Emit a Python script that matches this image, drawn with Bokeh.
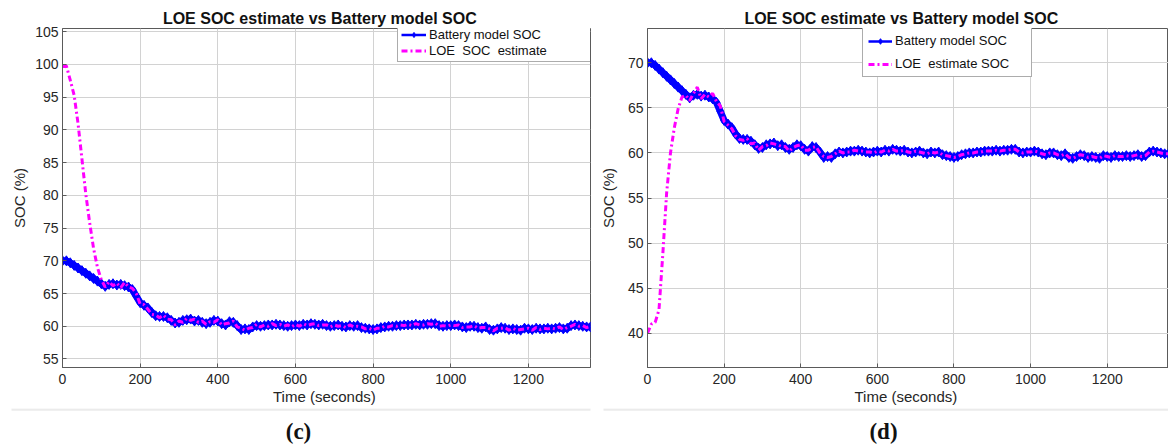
from bokeh.plotting import figure
from bokeh.models import Range1d, Legend, LegendItem, FixedTicker
from bokeh.layouts import row, column
from bokeh.embed import file_html
from bokeh.resources import INLINE
from bokeh.core.properties import value

# ---------------- data ----------------
time_s = list(range(0, 1361, 10))

battery_soc = [
    70.0, 70.0, 69.7, 69.3, 68.9, 68.5, 68.1, 67.7, 67.3, 66.9,
    66.5, 66.1, 66.4, 66.5, 66.3, 66.4, 66.2, 66.0, 65.6, 64.6,
    63.6, 63.2, 62.8, 62.1, 61.6, 61.5, 61.5, 61.3, 60.9, 60.5,
    60.6, 60.9, 61.0, 61.1, 60.8, 60.9, 60.6, 60.4, 60.6, 60.9,
    60.8, 60.4, 60.2, 60.7, 60.6, 60.1, 59.5, 59.6, 59.5, 59.9,
    60.1, 60.0, 60.1, 60.2, 60.2, 60.3, 60.2, 60.1, 60.0, 60.1,
    60.2, 60.1, 60.3, 60.2, 60.4, 60.3, 60.2, 60.3, 60.1, 60.0,
    60.1, 60.2, 60.0, 59.9, 60.1, 60.0, 60.1, 59.8, 59.7, 59.6,
    59.5, 59.6, 59.8, 59.9, 60.0, 60.0, 60.1, 60.1, 60.2, 60.2,
    60.2, 60.3, 60.2, 60.3, 60.3, 60.4, 60.4, 60.1, 60.0, 60.1,
    60.1, 60.2, 60.1, 59.9, 59.8, 60.0, 60.0, 59.8, 59.7, 59.9,
    59.5, 59.4, 59.6, 59.8, 59.7, 59.5, 59.6, 59.5, 59.4, 59.7,
    59.6, 59.5, 59.7, 59.6, 59.6, 59.7, 59.6, 59.7, 59.8, 59.6,
    59.7, 60.1, 60.2, 60.1, 60.0, 59.9, 59.9,
]

loe_estimate_c = [
    99.7, 99.8, 97.6, 95.3, 91.0, 85.6, 80.2, 75.8, 71.9, 69.0,
    67.1, 66.0, 66.8, 66.2, 66.6, 65.9, 66.7, 66.0, 65.8, 65.0,
    63.4, 63.3, 62.6, 61.8, 61.7, 61.3, 61.7, 61.1, 61.0, 60.2,
    60.8, 60.6, 61.2, 60.9, 61.1, 60.6, 60.8, 60.3, 60.7, 60.6,
    61.0, 60.2, 60.4, 60.5, 60.8, 59.9, 59.7, 59.4, 59.7, 59.8,
    60.3, 59.9, 60.2, 60.0, 60.4, 60.1, 60.3, 60.0, 60.2, 59.9,
    60.3, 60.0, 60.4, 60.1, 60.3, 60.4, 60.1, 60.2, 60.2, 59.9,
    60.2, 60.0, 60.1, 59.8, 60.2, 59.9, 60.0, 59.9, 59.6, 59.7,
    59.4, 59.7, 59.7, 60.0, 59.9, 60.1, 60.0, 60.2, 60.1, 60.3,
    60.1, 60.4, 60.2, 60.2, 60.4, 60.3, 60.5, 60.0, 60.1, 60.0,
    60.2, 60.1, 60.2, 59.8, 59.9, 59.9, 60.1, 59.7, 59.8, 59.8,
    59.6, 59.3, 59.7, 59.7, 59.8, 59.4, 59.7, 59.4, 59.5, 59.6,
    59.7, 59.4, 59.8, 59.5, 59.7, 59.6, 59.7, 59.6, 59.9, 59.5,
    59.8, 60.0, 60.3, 60.0, 60.1, 59.8, 60.0,
]

loe_estimate_d = [
    40.0, 41.0, 41.2, 42.6, 48.8, 55.6, 60.0, 62.8, 64.9, 66.2,
    66.4, 65.8, 66.6, 67.3, 66.0, 66.5, 66.2, 66.6, 65.7, 65.2,
    63.5, 63.1, 62.7, 61.9, 61.5, 61.4, 61.6, 61.0, 61.1, 60.3,
    60.7, 60.8, 61.1, 61.0, 60.9, 60.7, 60.7, 60.2, 60.6, 60.8,
    60.9, 60.3, 60.3, 60.6, 60.7, 60.0, 59.6, 59.5, 59.6, 59.9,
    60.2, 60.0, 60.1, 60.1, 60.3, 60.2, 60.2, 60.1, 60.1, 60.0,
    60.2, 60.1, 60.3, 60.2, 60.4, 60.2, 60.2, 60.3, 60.1, 60.0,
    60.2, 60.1, 60.0, 59.9, 60.1, 60.0, 60.1, 59.8, 59.7, 59.6,
    59.5, 59.6, 59.8, 59.9, 60.0, 60.0, 60.1, 60.1, 60.2, 60.2,
    60.2, 60.3, 60.2, 60.3, 60.3, 60.4, 60.4, 60.1, 60.0, 60.1,
    60.1, 60.2, 60.1, 59.9, 59.8, 60.0, 60.0, 59.8, 59.7, 59.9,
    59.5, 59.4, 59.6, 59.8, 59.7, 59.5, 59.6, 59.5, 59.4, 59.7,
    59.6, 59.5, 59.7, 59.6, 59.6, 59.7, 59.6, 59.7, 59.8, 59.6,
    59.7, 60.1, 60.2, 60.1, 60.0, 59.9, 59.9,
]

x_ticks = [0, 200, 400, 600, 800, 1000, 1200]
y_ticks_c = [55, 60, 65, 70, 75, 80, 85, 90, 95, 100, 105]
y_ticks_d = [40, 45, 50, 55, 60, 65, 70]

title_text = "LOE  SOC  estimate vs  Battery model SOC"
x_label = "Time  (seconds)"
y_label = "SOC (%)"
captions = ["(c)", "(d)"]

FONT = "Liberation Sans"
AXIS_COL = "#5a5a5a"
BLUE = "#0000ff"
MAGENTA = "#ff00ff"


def make_panel(width, border_left, border_right, border_top, y_range, y_ticks,
               estimate, est_label, y_label_standoff):
    p = figure(width=width, height=408, output_backend="svg", toolbar_location=None,
               x_range=Range1d(0, 1360), y_range=Range1d(*y_range),
               min_border_left=border_left, min_border_right=border_right,
               min_border_top=border_top, min_border_bottom=41,
               background_fill_color="white", border_fill_color="white")
    p.title.text = title_text
    p.title.align = "center"
    p.title.text_font = FONT
    p.title.text_font_size = "16px"
    p.title.text_font_style = "bold"
    p.title.text_color = "#111111"
    p.title.standoff = 4

    p.outline_line_color = AXIS_COL
    p.outline_line_width = 1

    for ax in (p.xaxis[0], p.yaxis[0]):
        ax.axis_line_color = AXIS_COL
        ax.major_tick_line_color = AXIS_COL
        ax.major_tick_in = 4
        ax.major_tick_out = 0
        ax.minor_tick_line_color = None
        ax.major_label_text_font = FONT
        ax.major_label_text_font_size = "14px"
        ax.major_label_text_color = "#262626"
        ax.axis_label_text_font = FONT
        ax.axis_label_text_font_size = "15px"
        ax.axis_label_text_font_style = "normal"
        ax.axis_label_text_color = "#262626"

    p.xaxis.ticker = FixedTicker(ticks=x_ticks)
    p.yaxis.ticker = FixedTicker(ticks=y_ticks)
    p.xaxis.axis_label = x_label
    p.yaxis.axis_label = y_label
    p.xaxis.major_label_standoff = 6
    p.xaxis.axis_label_standoff = 1
    p.yaxis.major_label_standoff = 4
    p.yaxis.axis_label_standoff = y_label_standoff

    p.xgrid.grid_line_color = "#d2d2d2"
    p.ygrid.grid_line_color = "#d2d2d2"
    p.xgrid.grid_line_width = 1
    p.ygrid.grid_line_width = 1

    # thin line (hidden under the thick band) used as the legend swatch
    key_line = p.line(time_s, battery_soc, line_color=BLUE, line_width=2.5)
    p.line(time_s, battery_soc, line_color=BLUE, line_width=7)
    marks = p.scatter(time_s, battery_soc, marker="diamond", size=10,
                      fill_color=BLUE, line_color=BLUE)
    ml = p.line(time_s, estimate, line_color=MAGENTA, line_width=3,
                line_dash="6 3 2 3")

    legend = Legend(items=[
        LegendItem(label="Battery model SOC", renderers=[key_line, marks]),
        LegendItem(label=est_label, renderers=[ml]),
    ])
    legend.label_text_font = FONT
    legend.label_text_font_size = "13px"
    legend.label_text_color = "#111111"
    legend.border_line_color = AXIS_COL
    legend.border_line_width = 1
    legend.background_fill_color = "white"
    legend.background_fill_alpha = 1.0
    legend.margin = 0
    p.add_layout(legend)
    return p, legend


fig_c, leg_c = make_panel(596, 62, 6, 28, (53.7, 105.5), y_ticks_c,
                          loe_estimate_c, "LOE  SOC  estimate", 4)
leg_c.location = (335, 305)
leg_c.padding = 3
leg_c.spacing = 1
leg_c.glyph_height = 13
leg_c.label_height = 13
leg_c.glyph_width = 25
leg_c.label_standoff = 3
leg_c.label_width = 159

fig_d, leg_d = make_panel(572, 51, 0, 26, (36.2, 73.8), y_ticks_d,
                          loe_estimate_d, "LOE  estimate SOC", 8)
leg_d.location = (215, 290)
leg_d.padding = 5
leg_d.spacing = 8
leg_d.glyph_height = 14
leg_d.label_height = 14
leg_d.glyph_width = 24
leg_d.label_standoff = 3
leg_d.label_width = 131

# caption strip
cap = figure(width=1168, height=38, output_backend="svg", toolbar_location=None,
             x_range=Range1d(0, 1168), y_range=Range1d(0, 38), min_border=0,
             border_fill_color="white", background_fill_color="white")
cap.axis.visible = False
cap.grid.visible = False
cap.outline_line_color = None
cap.segment(x0=[11, 603], y0=[37, 37], x1=[590, 1168], y1=[37, 37],
            line_color="#ebebeb", line_width=2.5)
cap.text(x=[298, 883], y=[15, 15], text=captions, text_align="center",
         text_baseline="middle", text_font=value("Liberation Serif"),
         text_font_size="23px", text_font_style="bold", text_color="#111111")

layout = column(row(fig_c, fig_d), cap)

with open("out.html", "w") as f:
    f.write(file_html(layout, INLINE))
